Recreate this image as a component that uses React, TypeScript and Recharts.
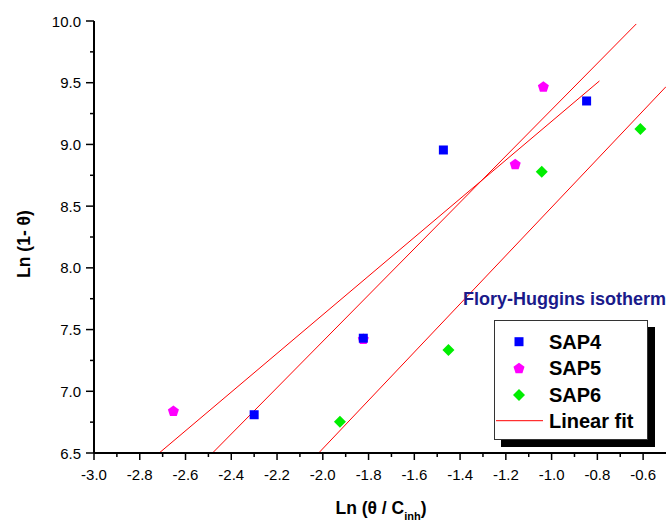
import { ComposedChart, Scatter, Line, XAxis, YAxis, Legend } from 'recharts';

// measured points, Ln(theta / Cinh) vs Ln(1 - theta)
const sap4X = [-2.30, -1.823, -1.473, -0.847];
const sap4Y = [6.81, 7.43, 8.955, 9.352];
const sap5X = [-2.653, -1.823, -1.159, -1.036];
const sap5Y = [6.842, 7.425, 8.841, 9.468];
const sap6X = [-1.925, -1.451, -1.043, -0.612];
const sap6Y = [6.753, 7.334, 8.779, 9.125];

// linear fits, end points
const fitAX = [-2.715, -0.791];
const fitAY = [6.5, 9.514];
const fitBX = [-2.482, -0.63];
const fitBY = [6.5, 9.976];
const fitCX = [-2.018, -0.5];
const fitCY = [6.5, 9.468];

const xTicks = [-3.0, -2.9, -2.8, -2.7, -2.6, -2.5, -2.4, -2.3, -2.2, -2.1, -2.0, -1.9, -1.8, -1.7, -1.6, -1.5, -1.4, -1.3, -1.2, -1.1, -1.0, -0.9, -0.8, -0.7, -0.6];
const yTicks = [6.5, 6.75, 7.0, 7.25, 7.5, 7.75, 8.0, 8.25, 8.5, 8.75, 9.0, 9.25, 9.5, 9.75, 10.0];

const zip = (xs: number[], ys: number[]) => xs.map((x, i) => ({ x, y: ys[i] }));

const sap4 = zip(sap4X, sap4Y);
const sap5 = zip(sap5X, sap5Y);
const sap6 = zip(sap6X, sap6Y);
const fitA = zip(fitAX, fitAY);
const fitB = zip(fitBX, fitBY);
const fitC = zip(fitCX, fitCY);

const FONT = 'Arial, "Liberation Sans", sans-serif';
const BLUE = '#0000ff';
const MAGENTA = '#ff00ff';
const GREEN = '#00ee00';
const RED = '#ff0000';

const isMajorX = (v: number) => Math.abs(Math.round(v * 10)) % 2 === 0;
const isMajorY = (v: number) => Number.isInteger(Math.round(v * 100) / 50);

const Square = ({ cx, cy, fill }: any) => (
  <rect x={cx - 4.5} y={cy - 4.5} width={9} height={9} fill={fill} />
);

const pentagonPoints = (cx: number, cy: number, r: number) =>
  [0, 1, 2, 3, 4]
    .map((k) => {
      const a = -Math.PI / 2 + (k * 2 * Math.PI) / 5;
      return `${cx + r * Math.cos(a)},${cy + r * Math.sin(a)}`;
    })
    .join(' ');

const Pentagon = ({ cx, cy, fill }: any) => (
  <polygon points={pentagonPoints(cx, cy + 0.5, 5.8)} fill={fill} />
);

const Diamond = ({ cx, cy, fill }: any) => (
  <polygon points={`${cx},${cy - 6} ${cx + 6},${cy} ${cx},${cy + 6} ${cx - 6},${cy}`} fill={fill} />
);

const BottomTick = ({ x, y, payload }: any) => {
  const major = isMajorX(payload.value);
  return (
    <g>
      <line x1={x} y1={y} x2={x} y2={y + (major ? 7 : 4)} stroke="#000" strokeWidth={1.5} />
      {major && (
        <text x={x} y={y + 27} textAnchor="middle" fontSize={15} fontFamily={FONT} fill="#000">
          {payload.value.toFixed(1)}
        </text>
      )}
    </g>
  );
};

const TopTick = ({ x, y, payload }: any) => (
  <line x1={x} y1={y} x2={x} y2={y + (isMajorX(payload.value) ? 6 : 3)} stroke="#000" strokeWidth={1.5} />
);

const LeftTick = ({ x, y, payload }: any) => {
  const major = isMajorY(payload.value);
  return (
    <g>
      <line x1={x} y1={y} x2={x - (major ? 8 : 4)} y2={y} stroke="#000" strokeWidth={1.5} />
      {major && (
        <text x={x - 13} y={y + 5.5} textAnchor="end" fontSize={15} fontFamily={FONT} fill="#000">
          {payload.value.toFixed(1)}
        </text>
      )}
    </g>
  );
};

const RightTick = ({ x, y, payload }: any) => (
  <line x1={x} y1={y} x2={x - (isMajorY(payload.value) ? 6 : 3)} y2={y} stroke="#000" strokeWidth={1.5} />
);

const legendRows = [
  { name: 'SAP4', kind: 'square', color: BLUE },
  { name: 'SAP5', kind: 'pentagon', color: MAGENTA },
  { name: 'SAP6', kind: 'diamond', color: GREEN },
  { name: 'Linear fit', kind: 'line', color: RED },
];

const LegendBox = () => (
  <svg width={210} height={170} style={{ display: 'block', overflow: 'visible' }}>
    <text x={0} y={20} fontSize={18} fontWeight="bold" fontFamily={FONT} fill="#1a1a8a">
      Flory-Huggins isotherm
    </text>
    <rect x={38} y={42} width={154} height={120} fill="#000" />
    <rect x={31.5} y={35.5} width={153} height={119} fill="#fff" stroke="#333" strokeWidth={1} />
    {legendRows.map((r, i) => {
      const cy = [56.7, 83, 110, 135.7][i];
      const cx = 56;
      return (
        <g key={r.name}>
          {r.kind === 'square' && <Square cx={cx} cy={cy} fill={r.color} />}
          {r.kind === 'pentagon' && <Pentagon cx={cx} cy={cy} fill={r.color} />}
          {r.kind === 'diamond' && <Diamond cx={cx} cy={cy} fill={r.color} />}
          {r.kind === 'line' && <line x1={33} y1={cy} x2={80} y2={cy} stroke={r.color} strokeWidth={1} />}
          <text x={86} y={cy + 7} fontSize={20} fontWeight="bold" fontFamily={FONT} fill="#000">
            {r.name}
          </text>
        </g>
      );
    })}
  </svg>
);

const YTitle = () => (
  <text
    x={30}
    y={244}
    transform="rotate(-90 30 244)"
    textAnchor="middle"
    fontSize={17.5}
    fontWeight="bold"
    fontFamily={FONT}
    fill="#000"
  >
    Ln (1- θ)
  </text>
);

const XTitle = () => (
  <text x={381} y={514} textAnchor="middle" fontSize={17.5} fontWeight="bold" fontFamily={FONT} fill="#000">
    <tspan>Ln (θ / C</tspan>
    <tspan dy={6} fontSize={11}>inh</tspan>
    <tspan dy={-6}>)</tspan>
  </text>
);

const axisLine = { stroke: '#000', strokeWidth: 2 };

export default function App() {
  return (
    <div style={{ position: 'absolute', left: 0, top: 0, width: 670, height: 523, background: '#fff' }}>
      <ComposedChart width={670} height={523} margin={{ top: 21, right: 4, bottom: 0, left: 34 }}>
        <XAxis
          type="number"
          dataKey="x"
          domain={[-3.0, -0.5]}
          ticks={xTicks}
          interval={0}
          height={70}
          tickSize={0}
          tickMargin={0}
          axisLine={axisLine}
          tickLine={false}
          tick={<BottomTick />}
          allowDataOverflow
          label={{ content: () => <XTitle /> }}
        />
        <XAxis
          xAxisId="top"
          orientation="top"
          type="number"
          dataKey="x"
          domain={[-3.0, -0.5]}
          ticks={xTicks}
          interval={0}
          height={0}
          tickSize={0}
          tickMargin={0}
          axisLine={axisLine}
          tickLine={false}
          tick={<TopTick />}
          allowDataOverflow
        />
        <YAxis
          type="number"
          dataKey="y"
          domain={[6.5, 10.0]}
          ticks={yTicks}
          interval={0}
          width={60}
          tickSize={0}
          tickMargin={0}
          axisLine={axisLine}
          tickLine={false}
          tick={<LeftTick />}
          allowDataOverflow
          label={{ content: () => <YTitle /> }}
        />
        <YAxis
          yAxisId="right"
          orientation="right"
          type="number"
          dataKey="y"
          domain={[6.5, 10.0]}
          ticks={yTicks}
          interval={0}
          width={0}
          tickSize={0}
          tickMargin={0}
          axisLine={axisLine}
          tickLine={false}
          tick={<RightTick />}
          allowDataOverflow
        />
        <Line data={fitA} dataKey="y" type="linear" stroke={RED} strokeWidth={1} dot={false} isAnimationActive={false} legendType="none" />
        <Line data={fitB} dataKey="y" type="linear" stroke={RED} strokeWidth={1} dot={false} isAnimationActive={false} legendType="none" />
        <Line data={fitC} dataKey="y" type="linear" stroke={RED} strokeWidth={1} dot={false} isAnimationActive={false} legendType="none" />
        <Scatter name="SAP5" data={sap5} dataKey="y" fill={MAGENTA} shape={<Pentagon />} isAnimationActive={false} />
        <Scatter name="SAP4" data={sap4} dataKey="y" fill={BLUE} shape={<Square />} isAnimationActive={false} />
        <Scatter name="SAP6" data={sap6} dataKey="y" fill={GREEN} shape={<Diamond />} isAnimationActive={false} />
        <Legend
          layout="horizontal"
          verticalAlign="middle"
          align="center"
          content={() => <LegendBox />}
          wrapperStyle={{ left: 463, top: 285, width: 210, height: 170 }}
        />
      </ComposedChart>
    </div>
  );
}
